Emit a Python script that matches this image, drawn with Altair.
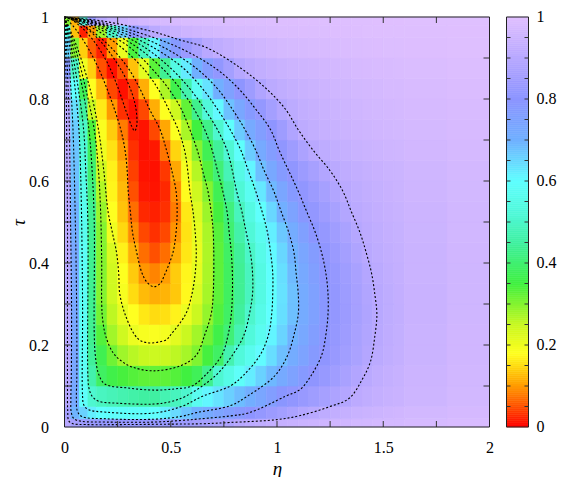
import altair as alt
import pandas as pd
import numpy as np

FONT = "Liberation Serif, Times New Roman, Times, DejaVu Serif, serif"
W, H = 425, 410

# ---- field values (rows bottom -> top, columns left -> right)
ETA_EDGES = [0.0, 0.03, 0.07, 0.11, 0.15, 0.2, 0.25, 0.3, 0.35, 0.4, 0.45, 0.5, 0.55, 0.6,
             0.65, 0.7, 0.75, 0.8, 0.85, 0.9, 0.95, 1.0, 1.05, 1.1, 1.15, 1.2, 1.25, 1.3,
             1.35, 1.4, 1.45, 1.5, 1.55, 1.6, 1.8, 2.0]
TAU_EDGES = [0.0, 0.02, 0.05, 0.1, 0.15, 0.2, 0.25, 0.3, 0.35, 0.4, 0.45, 0.5, 0.55, 0.6,
             0.65, 0.7, 0.75, 0.8, 0.85, 0.9, 0.95, 0.98, 1.0]

FIELD = [
    [0.90, 0.86, 0.84, 0.83, 0.82, 0.82, 0.82, 0.82, 0.82, 0.82, 0.83, 0.83, 0.84, 0.85, 0.86, 0.87, 0.88, 0.90, 0.91, 0.92, 0.93, 0.935, 0.94, 0.945, 0.95, 0.955, 0.96, 0.96, 0.965, 0.965, 0.97, 0.97, 0.97, 0.975, 0.98],
    [0.86, 0.695, 0.657, 0.62, 0.597, 0.592, 0.59, 0.59, 0.592, 0.598, 0.619, 0.647, 0.675, 0.701, 0.722, 0.742, 0.762, 0.782, 0.802, 0.819, 0.836, 0.853, 0.871, 0.888, 0.903, 0.915, 0.925, 0.933, 0.94, 0.946, 0.951, 0.955, 0.959, 0.965, 0.972],
    [0.89, 0.72, 0.59, 0.51, 0.49, 0.48, 0.47, 0.46, 0.452, 0.452, 0.472, 0.487, 0.506, 0.569, 0.612, 0.636, 0.66, 0.683, 0.708, 0.736, 0.764, 0.792, 0.811, 0.827, 0.844, 0.86, 0.876, 0.892, 0.91, 0.92, 0.93, 0.937, 0.943, 0.953, 0.965],
    [0.895, 0.73, 0.58, 0.464, 0.385, 0.36, 0.345, 0.335, 0.327, 0.325, 0.327, 0.335, 0.35, 0.375, 0.43, 0.512, 0.55, 0.588, 0.623, 0.657, 0.69, 0.72, 0.75, 0.779, 0.806, 0.826, 0.846, 0.866, 0.886, 0.905, 0.92, 0.93, 0.938, 0.95, 0.963],
    [0.895, 0.732, 0.58, 0.443, 0.368, 0.316, 0.28, 0.262, 0.25, 0.245, 0.248, 0.258, 0.275, 0.304, 0.346, 0.388, 0.47, 0.527, 0.565, 0.604, 0.642, 0.681, 0.716, 0.747, 0.778, 0.806, 0.827, 0.848, 0.869, 0.89, 0.907, 0.92, 0.93, 0.945, 0.96],
    [0.895, 0.73, 0.58, 0.433, 0.336, 0.278, 0.241, 0.204, 0.19, 0.186, 0.193, 0.216, 0.247, 0.278, 0.314, 0.359, 0.407, 0.473, 0.526, 0.57, 0.613, 0.654, 0.696, 0.73, 0.763, 0.797, 0.82, 0.841, 0.863, 0.885, 0.902, 0.917, 0.928, 0.944, 0.96],
    [0.895, 0.73, 0.58, 0.433, 0.313, 0.257, 0.21, 0.18, 0.16, 0.15, 0.153, 0.17, 0.204, 0.246, 0.288, 0.337, 0.389, 0.447, 0.505, 0.552, 0.6, 0.64, 0.68, 0.718, 0.754, 0.789, 0.815, 0.837, 0.859, 0.88, 0.9, 0.915, 0.926, 0.943, 0.958],
    [0.895, 0.73, 0.58, 0.433, 0.3, 0.241, 0.19, 0.15, 0.125, 0.115, 0.12, 0.135, 0.175, 0.225, 0.275, 0.328, 0.383, 0.437, 0.489, 0.542, 0.595, 0.637, 0.679, 0.718, 0.754, 0.789, 0.816, 0.839, 0.861, 0.884, 0.902, 0.916, 0.927, 0.943, 0.958],
    [0.895, 0.73, 0.58, 0.433, 0.3, 0.238, 0.182, 0.136, 0.097, 0.085, 0.103, 0.138, 0.172, 0.212, 0.271, 0.328, 0.383, 0.437, 0.489, 0.542, 0.595, 0.64, 0.686, 0.725, 0.761, 0.796, 0.821, 0.844, 0.867, 0.891, 0.908, 0.92, 0.93, 0.944, 0.958],
    [0.895, 0.73, 0.58, 0.433, 0.3, 0.229, 0.168, 0.116, 0.07, 0.05, 0.07, 0.114, 0.159, 0.206, 0.269, 0.329, 0.388, 0.444, 0.5, 0.553, 0.605, 0.65, 0.696, 0.735, 0.773, 0.807, 0.831, 0.855, 0.879, 0.902, 0.915, 0.925, 0.933, 0.946, 0.96],
    [0.9, 0.71, 0.567, 0.433, 0.3, 0.2, 0.147, 0.09, 0.045, 0.03, 0.045, 0.095, 0.156, 0.212, 0.271, 0.333, 0.4, 0.463, 0.52, 0.57, 0.62, 0.67, 0.716, 0.756, 0.796, 0.821, 0.845, 0.869, 0.893, 0.91, 0.92, 0.929, 0.936, 0.948, 0.962],
    [0.9, 0.7, 0.567, 0.433, 0.286, 0.181, 0.131, 0.07, 0.025, 0.02, 0.03, 0.08, 0.16, 0.222, 0.282, 0.347, 0.414, 0.486, 0.542, 0.595, 0.65, 0.704, 0.746, 0.788, 0.817, 0.84, 0.864, 0.888, 0.907, 0.918, 0.927, 0.935, 0.941, 0.951, 0.963],
    [0.9, 0.69, 0.556, 0.417, 0.267, 0.171, 0.124, 0.05, 0.015, 0.012, 0.025, 0.09, 0.177, 0.241, 0.3, 0.371, 0.446, 0.517, 0.572, 0.629, 0.688, 0.735, 0.778, 0.812, 0.836, 0.86, 0.883, 0.905, 0.915, 0.924, 0.932, 0.939, 0.944, 0.954, 0.965],
    [0.9, 0.68, 0.54, 0.4, 0.24, 0.168, 0.115, 0.04, 0.012, 0.01, 0.035, 0.11, 0.193, 0.264, 0.336, 0.407, 0.479, 0.547, 0.613, 0.68, 0.73, 0.774, 0.81, 0.836, 0.862, 0.887, 0.906, 0.917, 0.926, 0.933, 0.939, 0.944, 0.948, 0.957, 0.967],
    [0.9, 0.675, 0.52, 0.38, 0.2, 0.155, 0.1, 0.03, 0.01, 0.015, 0.075, 0.145, 0.217, 0.3, 0.371, 0.443, 0.515, 0.592, 0.664, 0.723, 0.768, 0.809, 0.841, 0.872, 0.902, 0.915, 0.925, 0.933, 0.94, 0.945, 0.95, 0.954, 0.958, 0.964, 0.972],
    [0.9, 0.665, 0.5, 0.34, 0.186, 0.138, 0.08, 0.02, 0.012, 0.045, 0.11, 0.185, 0.273, 0.35, 0.425, 0.508, 0.592, 0.664, 0.721, 0.763, 0.804, 0.842, 0.881, 0.912, 0.925, 0.934, 0.941, 0.947, 0.952, 0.956, 0.96, 0.963, 0.966, 0.971, 0.977],
    [0.89, 0.64, 0.45, 0.25, 0.163, 0.1, 0.03, 0.01, 0.045, 0.115, 0.183, 0.242, 0.325, 0.43, 0.525, 0.607, 0.679, 0.732, 0.777, 0.818, 0.854, 0.889, 0.911, 0.924, 0.934, 0.942, 0.948, 0.953, 0.958, 0.962, 0.965, 0.968, 0.971, 0.975, 0.98],
    [0.87, 0.6, 0.375, 0.181, 0.125, 0.045, 0.01, 0.04, 0.115, 0.182, 0.27, 0.364, 0.467, 0.575, 0.636, 0.705, 0.755, 0.804, 0.842, 0.881, 0.907, 0.92, 0.93, 0.939, 0.946, 0.952, 0.957, 0.961, 0.965, 0.968, 0.971, 0.974, 0.976, 0.98, 0.984],
    [0.78, 0.5, 0.2, 0.14, 0.05, 0.01, 0.05, 0.13, 0.213, 0.33, 0.438, 0.542, 0.625, 0.7, 0.767, 0.813, 0.854, 0.895, 0.912, 0.924, 0.934, 0.942, 0.949, 0.955, 0.96, 0.964, 0.968, 0.971, 0.974, 0.977, 0.979, 0.981, 0.983, 0.986, 0.99],
    [0.65, 0.3, 0.14, 0.06, 0.02, 0.1, 0.206, 0.343, 0.486, 0.613, 0.71, 0.779, 0.831, 0.865, 0.902, 0.918, 0.931, 0.942, 0.951, 0.958, 0.964, 0.969, 0.973, 0.976, 0.979, 0.981, 0.983, 0.985, 0.986, 0.988, 0.989, 0.99, 0.991, 0.992, 0.994],
    [0.55, 0.13, 0.02, 0.1, 0.28, 0.5, 0.66, 0.79, 0.856, 0.905, 0.925, 0.94, 0.952, 0.96, 0.966, 0.971, 0.975, 0.978, 0.981, 0.983, 0.985, 0.987, 0.988, 0.989, 0.99, 0.991, 0.992, 0.993, 0.993, 0.994, 0.994, 0.995, 0.995, 0.996, 0.997],
    [0.3, 0.12, 0.55, 0.82, 0.9, 0.93, 0.95, 0.96, 0.967, 0.972, 0.976, 0.979, 0.982, 0.984, 0.986, 0.987, 0.988, 0.989, 0.99, 0.991, 0.992, 0.993, 0.993, 0.994, 0.994, 0.995, 0.995, 0.996, 0.996, 0.996, 0.997, 0.997, 0.997, 0.998, 0.998],
]

# ---- contour lines: (eta, tau)
C01 = [(0.0, 1.0), (0.02, 0.99), (0.06, 0.965), (0.11, 0.925), (0.16, 0.875), (0.20, 0.825), (0.235, 0.775), (0.265, 0.725), (0.285, 0.675), (0.295, 0.625), (0.30, 0.575), (0.31, 0.525), (0.32, 0.475), (0.34, 0.425), (0.365, 0.375), (0.39, 0.352), (0.42, 0.342), (0.45, 0.35), (0.47, 0.37), (0.51, 0.425), (0.525, 0.475), (0.53, 0.525), (0.525, 0.575), (0.505, 0.625), (0.48, 0.675), (0.45, 0.725), (0.40, 0.775), (0.355, 0.825), (0.30, 0.875), (0.22, 0.925), (0.13, 0.965), (0.05, 0.99), (0.0, 1.0)]
C02 = [(0.0, 1.0), (0.06, 0.925), (0.12, 0.825), (0.16, 0.725), (0.185, 0.625), (0.205, 0.525), (0.225, 0.475), (0.245, 0.425), (0.255, 0.375), (0.26, 0.325), (0.285, 0.275), (0.33, 0.225), (0.36, 0.21), (0.40, 0.205), (0.44, 0.207), (0.48, 0.213), (0.50, 0.225), (0.57, 0.275), (0.60, 0.325), (0.615, 0.375), (0.62, 0.425), (0.615, 0.475), (0.605, 0.525), (0.59, 0.575), (0.58, 0.625), (0.565, 0.675), (0.535, 0.725), (0.49, 0.775), (0.44, 0.825), (0.37, 0.875), (0.27, 0.925), (0.16, 0.965), (0.065, 0.99), (0.0, 1.0)]
C03 = [(0.0, 1.0), (0.05, 0.925), (0.10, 0.825), (0.14, 0.725), (0.16, 0.625), (0.17, 0.525), (0.175, 0.4), (0.175, 0.3), (0.18, 0.26), (0.195, 0.22), (0.23, 0.18), (0.27, 0.16), (0.32, 0.146), (0.42, 0.137), (0.55, 0.15), (0.62, 0.175), (0.66, 0.225), (0.69, 0.275), (0.70, 0.325), (0.70, 0.475), (0.69, 0.525), (0.675, 0.575), (0.65, 0.625), (0.625, 0.675), (0.59, 0.725), (0.55, 0.775), (0.49, 0.825), (0.41, 0.875), (0.31, 0.925), (0.185, 0.965), (0.075, 0.99), (0.0, 1.0)]
C04 = [(0.0, 1.0), (0.04, 0.925), (0.085, 0.825), (0.115, 0.725), (0.13, 0.625), (0.14, 0.5), (0.14, 0.225), (0.145, 0.175), (0.16, 0.13), (0.19, 0.105), (0.3, 0.095), (0.42, 0.09), (0.52, 0.093), (0.6, 0.10), (0.66, 0.125), (0.74, 0.175), (0.77, 0.225), (0.785, 0.275), (0.79, 0.325), (0.79, 0.375), (0.785, 0.425), (0.775, 0.475), (0.765, 0.525), (0.745, 0.575), (0.72, 0.625), (0.695, 0.675), (0.66, 0.725), (0.61, 0.775), (0.545, 0.825), (0.46, 0.875), (0.345, 0.925), (0.21, 0.965), (0.085, 0.99), (0.0, 1.0)]
C05 = [(0.0, 1.0), (0.032, 0.925), (0.065, 0.825), (0.09, 0.725), (0.10, 0.625), (0.11, 0.5), (0.11, 0.125), (0.115, 0.095), (0.13, 0.075), (0.16, 0.063), (0.25, 0.058), (0.42, 0.056), (0.5, 0.062), (0.57, 0.075), (0.71, 0.125), (0.79, 0.175), (0.845, 0.225), (0.87, 0.275), (0.885, 0.325), (0.885, 0.375), (0.875, 0.425), (0.855, 0.475), (0.835, 0.525), (0.81, 0.575), (0.79, 0.625), (0.765, 0.675), (0.72, 0.725), (0.66, 0.775), (0.59, 0.825), (0.50, 0.875), (0.38, 0.925), (0.235, 0.965), (0.095, 0.99), (0.0, 1.0)]
C06 = [(0.0, 1.0), (0.025, 0.925), (0.05, 0.825), (0.068, 0.725), (0.078, 0.575), (0.085, 0.3), (0.085, 0.075), (0.09, 0.055), (0.11, 0.043), (0.2, 0.036), (0.42, 0.034), (0.55, 0.05), (0.65, 0.075), (0.78, 0.10), (0.84, 0.125), (0.92, 0.175), (0.96, 0.225), (0.975, 0.275), (0.98, 0.325), (0.98, 0.375), (0.97, 0.425), (0.955, 0.475), (0.93, 0.525), (0.90, 0.575), (0.865, 0.625), (0.83, 0.675), (0.78, 0.725), (0.72, 0.775), (0.65, 0.825), (0.56, 0.875), (0.42, 0.925), (0.26, 0.965), (0.105, 0.99), (0.0, 1.0)]
C07 = [(0.0, 1.0), (0.016, 0.925), (0.03, 0.825), (0.04, 0.725), (0.05, 0.525), (0.057, 0.3), (0.058, 0.125), (0.056, 0.07), (0.06, 0.04), (0.08, 0.026), (0.2, 0.02), (0.42, 0.019), (0.55, 0.026), (0.62, 0.035), (0.78, 0.052), (0.86, 0.075), (0.99, 0.125), (1.05, 0.175), (1.08, 0.225), (1.10, 0.275), (1.10, 0.325), (1.09, 0.375), (1.08, 0.425), (1.055, 0.475), (1.02, 0.525), (0.985, 0.575), (0.94, 0.625), (0.90, 0.675), (0.85, 0.725), (0.79, 0.775), (0.72, 0.825), (0.62, 0.875), (0.47, 0.925), (0.29, 0.965), (0.12, 0.99), (0.0, 1.0)]
C08 = [(0.0, 1.0), (0.009, 0.925), (0.017, 0.825), (0.023, 0.725), (0.028, 0.525), (0.033, 0.3), (0.032, 0.125), (0.03, 0.07), (0.032, 0.035), (0.045, 0.02), (0.08, 0.014), (0.2, 0.012), (0.42, 0.012), (0.55, 0.016), (0.64, 0.02), (0.78, 0.027), (0.87, 0.035), (1.04, 0.075), (1.11, 0.092), (1.16, 0.125), (1.21, 0.175), (1.23, 0.225), (1.24, 0.275), (1.24, 0.325), (1.23, 0.375), (1.21, 0.425), (1.18, 0.475), (1.14, 0.525), (1.10, 0.575), (1.055, 0.625), (1.01, 0.675), (0.97, 0.725), (0.90, 0.775), (0.82, 0.825), (0.71, 0.875), (0.54, 0.925), (0.33, 0.965), (0.14, 0.99), (0.0, 1.0)]
C09 = [(0.0, 1.0), (0.004, 0.925), (0.008, 0.825), (0.011, 0.675), (0.014, 0.5), (0.014, 0.3), (0.014, 0.1), (0.015, 0.04), (0.02, 0.015), (0.04, 0.008), (0.1, 0.006), (0.3, 0.006), (0.5, 0.007), (0.65, 0.008), (0.78, 0.011), (1.0, 0.018), (1.11, 0.028), (1.25, 0.05), (1.34, 0.07), (1.40, 0.115), (1.44, 0.16), (1.46, 0.22), (1.47, 0.275), (1.46, 0.325), (1.445, 0.375), (1.42, 0.425), (1.39, 0.475), (1.35, 0.525), (1.31, 0.575), (1.25, 0.625), (1.17, 0.675), (1.10, 0.725), (1.04, 0.775), (0.95, 0.825), (0.83, 0.875), (0.67, 0.925), (0.55, 0.943), (0.41, 0.965), (0.18, 0.99), (0.0, 1.0)]
TONGUE = [(0.03, 0.995), (0.08, 0.975), (0.14, 0.94), (0.2, 0.89), (0.25, 0.83), (0.29, 0.77), (0.315, 0.735), (0.33, 0.722), (0.34, 0.735), (0.335, 0.78), (0.31, 0.825), (0.27, 0.868), (0.2, 0.922), (0.14, 0.956), (0.085, 0.98), (0.04, 0.995)]
CONTOURS = {"0.1": C01, "0.2": C02, "0.3": C03, "0.4": C04, "0.5": C05,
            "0.6": C06, "0.7": C07, "0.8": C08, "0.9": C09, "tongue": TONGUE}

# ---- palette / axes
CBAR_STOPS = [0.0, 0.05, 0.1, 0.15, 0.18, 0.25, 0.35, 0.45, 0.52, 0.6, 0.7, 0.8, 0.9, 1.0]
CBAR_COLORS = ["#ff0000", "#ff5000", "#ff9a00", "#ffdc10", "#ffff20", "#c8f820", "#40f040",
               "#40f0a0", "#50f8d8", "#60ffff", "#70b0ff", "#8c94ff", "#b8a8ff", "#e0c0ff"]
X_LABELS = [0, 0.5, 1, 1.5, 2]
Y_LABELS = [0, 0.2, 0.4, 0.6, 0.8, 1]
X_TICKS = [0.25, 0.5, 0.75, 1.0, 1.25, 1.5, 1.75]
Y_TICKS = [0.1, 0.2, 0.3, 0.4, 0.5, 0.6, 0.7, 0.8, 0.9]
CB_TICKS = [round(0.05 * k, 2) for k in range(1, 20)]
CB_LABELS = ["0", "0.2", "0.4", "0.6", "0.8", "1"]
CB_LABEL_VALUES = [0, 0.2, 0.4, 0.6, 0.8, 1]

xs = alt.Scale(domain=[0, 2], nice=False, zero=False)
ys = alt.Scale(domain=[0, 1], nice=False, zero=False)
cs = alt.Scale(type="linear", domain=CBAR_STOPS, range=CBAR_COLORS, interpolate="rgb", clamp=True)

cells = []
for j, row in enumerate(FIELD):
    for i, v in enumerate(row):
        cells.append(dict(eta0=ETA_EDGES[i], eta1=ETA_EDGES[i + 1],
                          tau0=TAU_EDGES[j], tau1=TAU_EDGES[j + 1], v=v))
cells = pd.DataFrame(cells)

LABEL_SIZE = 16
xaxis = alt.Axis(values=X_LABELS, format="~g", ticks=False, tickSize=0, domain=False, grid=False,
                 labelFont=FONT, labelFontSize=LABEL_SIZE, labelColor="black", labelPadding=12,
                 labelFlush=False, labelOverlap=False,
                 title="η", titleFont=FONT, titleFontSize=19, titleFontStyle="italic",
                 titleFontWeight="normal", titleColor="black", titleX=W / 2, titleY=41,
                 titleAlign="center", titleBaseline="middle")
yaxis = alt.Axis(values=Y_LABELS, format="~g", ticks=False, tickSize=0, domain=False, grid=False,
                 labelFont=FONT, labelFontSize=LABEL_SIZE, labelColor="black", labelPadding=16,
                 labelFlush=False, labelOverlap=False,
                 title="τ", titleFont=FONT, titleFontSize=19, titleFontStyle="italic",
                 titleFontWeight="normal", titleColor="black", titleX=-46, titleY=H / 2,
                 titleAngle=270, titleAlign="center", titleBaseline="middle")

heat = alt.Chart(cells).mark_rect(strokeWidth=0.6).encode(
    x=alt.X("eta0:Q", scale=xs, axis=xaxis),
    x2="eta1:Q",
    y=alt.Y("tau0:Q", scale=ys, axis=yaxis),
    y2="tau1:Q",
    color=alt.Color("v:Q", scale=cs, legend=None),
    stroke=alt.Stroke("v:Q", scale=cs, legend=None),
)

lines = []
for name, pts in CONTOURS.items():
    for k, (e, t) in enumerate(pts):
        lines.append(dict(level=name, idx=k, eta=e, tau=t))
lines = pd.DataFrame(lines)
contour = alt.Chart(lines).mark_line(color="black", strokeWidth=1.1, strokeDash=[2, 2],
                                     interpolate="catmull-rom").encode(
    x=alt.X("eta:Q", scale=xs), y=alt.Y("tau:Q", scale=ys),
    detail="level:N", order="idx:Q")

ydf = pd.DataFrame({"t": Y_TICKS})
xdf = pd.DataFrame({"e": X_TICKS})
tick_style = dict(color="#333333", strokeWidth=1)
tick_l = alt.Chart(ydf).mark_rule(**tick_style).encode(
    y=alt.Y("t:Q", scale=ys), x=alt.value(0), x2=alt.value(6))
tick_r = alt.Chart(ydf).mark_rule(**tick_style).encode(
    y=alt.Y("t:Q", scale=ys), x=alt.value(W - 6), x2=alt.value(W))
tick_b = alt.Chart(xdf).mark_rule(**tick_style).encode(
    x=alt.X("e:Q", scale=xs), y=alt.value(H), y2=alt.value(H - 6))
tick_t = alt.Chart(xdf).mark_rule(**tick_style).encode(
    x=alt.X("e:Q", scale=xs), y=alt.value(0), y2=alt.value(6))

one = pd.DataFrame({"a": [0]})
frame = alt.Chart(one).mark_rect(fillOpacity=0, stroke="#222222", strokeWidth=1).encode(
    x=alt.value(0), x2=alt.value(W), y=alt.value(0), y2=alt.value(H))

# colour bar
CB_X0, CB_X1 = 442, 464
lo = np.linspace(0, 1, 200, endpoint=False)
strip = pd.DataFrame({"lo": lo, "hi": lo + 1 / 200, "mid": lo + 0.5 / 200})
cbar = alt.Chart(strip).mark_rect(strokeWidth=0.6).encode(
    y=alt.Y("lo:Q", scale=ys), y2="hi:Q",
    x=alt.value(CB_X0), x2=alt.value(CB_X1),
    color=alt.Color("mid:Q", scale=cs, legend=None),
    stroke=alt.Stroke("mid:Q", scale=cs, legend=None))
cb_frame = alt.Chart(one).mark_rect(fillOpacity=0, stroke="#222222", strokeWidth=1).encode(
    x=alt.value(CB_X0), x2=alt.value(CB_X1), y=alt.value(0), y2=alt.value(H))
cbt = pd.DataFrame({"t": CB_TICKS})
cb_tick_l = alt.Chart(cbt).mark_rule(**tick_style).encode(
    y=alt.Y("t:Q", scale=ys), x=alt.value(CB_X0), x2=alt.value(CB_X0 + 4))
cb_tick_r = alt.Chart(cbt).mark_rule(**tick_style).encode(
    y=alt.Y("t:Q", scale=ys), x=alt.value(CB_X1 - 4), x2=alt.value(CB_X1))
cb_text = alt.Chart(pd.DataFrame({"v": CB_LABEL_VALUES, "lab": CB_LABELS})).mark_text(
    align="left", baseline="middle", font=FONT, fontSize=LABEL_SIZE, color="black").encode(
    y=alt.Y("v:Q", scale=ys), x=alt.value(CB_X1 + 8), text="lab:N")

chart = alt.layer(heat, contour, tick_l, tick_r, tick_b, tick_t, frame,
                  cbar, cb_frame, cb_tick_l, cb_tick_r, cb_text).properties(
    width=W, height=H,
    autosize=alt.AutoSizeParams(type="none"),
    padding={"left": 56.5, "top": 9, "right": 74, "bottom": 50},
    background="white",
).configure_view(stroke=None)

chart.save("out.html", embed_options={"renderer": "svg", "actions": False})
